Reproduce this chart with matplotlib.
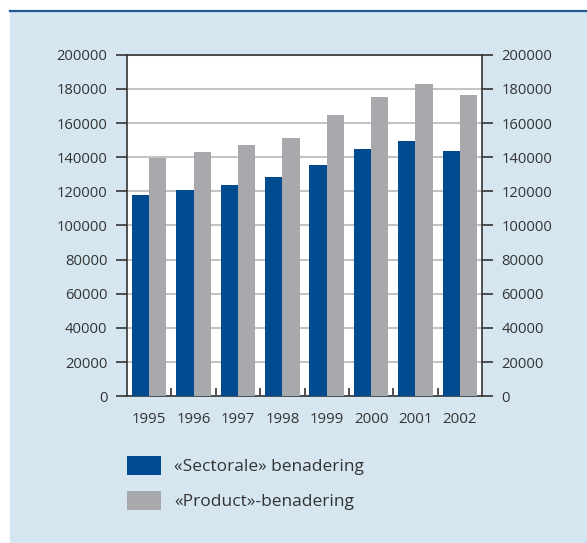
import numpy as np
import matplotlib
matplotlib.use('Agg')
import matplotlib.pyplot as plt
from matplotlib.patches import Rectangle, Patch
from matplotlib.lines import Line2D

plt.rcParams['font.family'] = ['Open Sans', 'DejaVu Sans']

years = ['1995', '1996', '1997', '1998', '1999', '2000', '2001', '2002']
sectorale = [118000, 121000, 124000, 128500, 135500, 145000, 149500, 143500]
product = [139500, 143000, 147000, 151000, 164500, 175000, 183000, 176500]
labels = ['«Sectorale» benadering', '«Product»-benadering']

blue = '#004a8f'
grey = '#a7a9ac'
panel = '#d5e6f0'
ink = '#333333'

W, H = 587, 543
fig = plt.figure(figsize=(W / 100, H / 100), dpi=100, facecolor='white')

# light panel with dark rule on top
fig.add_artist(Rectangle((10 / W, 0), 1 - 10 / W, 1 - 12 / H,
                         transform=fig.transFigure, color=panel, zorder=0))
fig.add_artist(Line2D([10 / W, 1], [1 - 11 / H, 1 - 11 / H],
                      transform=fig.transFigure, color='#1f5a98', lw=1.6))

ax = fig.add_axes([127 / W, 1 - 396.3 / H, 355 / W, 341.6 / H])
ax.set_facecolor('white')

x = np.arange(len(years))
bw = 0.39
ax.bar(x - bw / 2, sectorale, bw, color=blue, zorder=3)
ax.bar(x + bw / 2, product, bw, color=grey, zorder=3)

ax.set_xlim(-0.5, len(years) - 0.5)
ax.set_ylim(0, 200000)
yt = np.arange(0, 200001, 20000)
ax.set_yticks(yt)
ax.set_yticklabels([str(v) for v in yt])
ax.yaxis.grid(True, color='#c3c3c3', lw=1.5, zorder=0)

ax.set_xticks(x)
ax.set_xticklabels(years)
ax.set_xticks(x[:-1] + 0.5, minor=True)
ax.tick_params(axis='x', which='major', length=0, pad=11, labelsize=10.8, labelcolor=ink)
ax.tick_params(axis='x', which='minor', direction='in', length=6, width=1.2, color=ink)
ax.tick_params(axis='y', which='major', length=8, width=1.2, color=ink, pad=6,
               labelsize=10.6, labelcolor=ink, right=True, labelright=True)

for s in ax.spines.values():
    s.set_color(ink)
    s.set_linewidth(1.2)

handles = [Patch(facecolor=blue), Patch(facecolor=grey)]
fig.legend(handles, labels, loc='upper left',
           bbox_to_anchor=(127 / W, 1 - 456 / H), bbox_transform=fig.transFigure,
           frameon=False, fontsize=12.5, borderpad=0, borderaxespad=0,
           handlelength=1.95, handleheight=1.32, handletextpad=0.76,
           labelspacing=0.88, labelcolor=ink)

fig.savefig('out.png', dpi=100, facecolor='white')
